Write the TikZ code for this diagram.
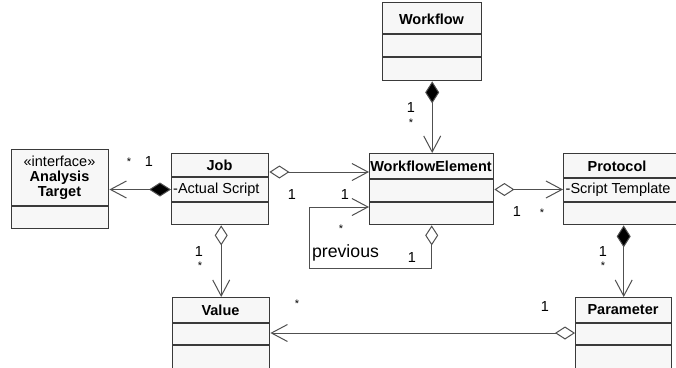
\documentclass[tikz,border=0pt]{standalone}
\usepackage{fontspec}
\setmainfont{Liberation Sans}
\usetikzlibrary{arrows.meta,calc}
\definecolor{boxfill}{HTML}{F7F7F7}
\definecolor{boxdraw}{HTML}{3A3A3A}
\definecolor{conncol}{HTML}{505050}
\tikzset{
  umlbox/.style={draw=boxdraw, fill=boxfill, line width=1.4pt, rectangle, anchor=north west, inner sep=0pt},
  divider/.style={draw=boxdraw, line width=1.4pt},
  hdr/.style={font=\fontsize{14.5}{16}\selectfont\bfseries, inner sep=0pt},
  attr/.style={font=\fontsize{14.5}{16}\selectfont, inner sep=0pt, anchor=west},
  mult/.style={font=\fontsize{14.5}{16}\selectfont, inner sep=0pt},
  star/.style={font=\fontsize{11}{12}\selectfont, inner sep=0pt},
  conn/.style={draw=conncol, line width=1pt},
  opentip/.style={-{Straight Barb[length=16pt,width=17pt,line width=1pt]}},
  comp/.style={{Diamond[length=22pt,width=14pt,fill=black]}-{Straight Barb[length=16pt,width=17pt,line width=1pt]}},
  aggr/.style={{Diamond[length=20pt,width=13pt,fill=white,line width=1pt]}-{Straight Barb[length=16pt,width=17pt,line width=1pt]}},
}
\begin{document}
\begin{tikzpicture}[x=1pt,y=-1pt]
\clip (0,0) rectangle (676,367);
\fill[white] (0,0) rectangle (676,367);

% Workflow
\node[umlbox, minimum width=99pt, minimum height=78pt] (workflow) at (382,2) {};
\draw[divider] (382,34) -- (481,34);
\draw[divider] (382,57) -- (481,57);
\node[hdr] (workflowT) at (431.5,19) {Workflow};

% WorkflowElement
\node[umlbox, minimum width=124pt, minimum height=71pt] (we) at (369,153) {};
\draw[divider] (369,179) -- (493,179);
\draw[divider] (369,202) -- (493,202);
\node[hdr] (weT) at (431,166) {WorkflowElement};

% Job
\node[umlbox, minimum width=97pt, minimum height=71pt] (job) at (171,153) {};
\draw[divider] (171,177) -- (268,177);
\draw[divider] (171,202) -- (268,202);
\node[hdr] (jobT) at (219.5,165.5) {Job};
\node[attr] (jobA) at (173,189.5) {-Actual Script};

% Analysis Target
\node[umlbox, minimum width=97pt, minimum height=79pt] (at) at (11,149) {};
\draw[divider] (11,206) -- (108,206);
\node[mult] (atS) at (59.5,161) {«interface»};
\node[hdr] (atT) at (59.5,177.5) {Analysis};
\node[hdr] (atT2) at (59.5,193.5) {Target};

% Protocol
\node[umlbox, minimum width=120pt, minimum height=71pt] (proto) at (563,153) {};
\draw[divider] (563,178) -- (683,178);
\draw[divider] (563,202) -- (683,202);
\node[hdr] (protoT) at (617,166) {Protocol};
\node[attr] (protoA) at (565.5,189.5) {-Script Template};

% Value
\node[umlbox, minimum width=97pt, minimum height=90pt] (value) at (172,297) {};
\draw[divider] (172,323) -- (269,323);
\draw[divider] (172,345) -- (269,345);
\node[hdr] (valueT) at (220.5,310) {Value};

% Parameter
\node[umlbox, minimum width=96pt, minimum height=90pt] (param) at (575,297) {};
\draw[divider] (575,323) -- (671,323);
\draw[divider] (575,345) -- (671,345);
\node[hdr] (paramT) at (623,310) {Parameter};

% Connectors
\draw[conn, comp] (workflow.south) -- (workflow.south |- we.north);
\draw[conn, comp] (job.west |- jobA) -- (at.east |- jobA);
\draw[conn, aggr] ([yshift=-19pt]job.north east) -- ([yshift=-19pt]we.north west);
\draw[conn, aggr] (we.east |- protoA) -- (proto.west |- protoA);
\draw[conn, aggr] (we.south) -- ++(0,43) -| ([xshift=-60pt,yshift=-54pt]we.north west) -- ([yshift=-54pt]we.north west);
\draw[conn, aggr] (job.south -| value.north) -- (value.north);
\draw[conn, comp] (param.north |- proto.south) -- (param.north);
\draw[conn, aggr] ([yshift=-36pt]param.north west) -- (value.east |- 0,333);

% Multiplicities
\node[star] (m1) at (129,162) {*};
\node[mult] (m2) at (149,162) {1};
\node[mult] (m3) at (411,108) {1};
\node[star] (m4) at (411,123) {*};
\node[mult] (m5) at (292,195) {1};
\node[mult] (m6) at (345,195) {1};
\node[star] (m7) at (341,229) {*};
\node[font=\fontsize{17.7}{19}\selectfont, inner sep=0pt] (prev) at (345.5,253) {previous};
\node[mult] (m8) at (412,258) {1};
\node[mult] (m9) at (517,212) {1};
\node[star] (m10) at (542,213) {*};
\node[mult] (m11) at (603,252) {1};
\node[star] (m12) at (603,266) {*};
\node[mult] (m13) at (199,252) {1};
\node[star] (m14) at (200,266) {*};
\node[star] (m15) at (297,304) {*};
\node[mult] (m16) at (545,307) {1};
\end{tikzpicture}
\end{document}
